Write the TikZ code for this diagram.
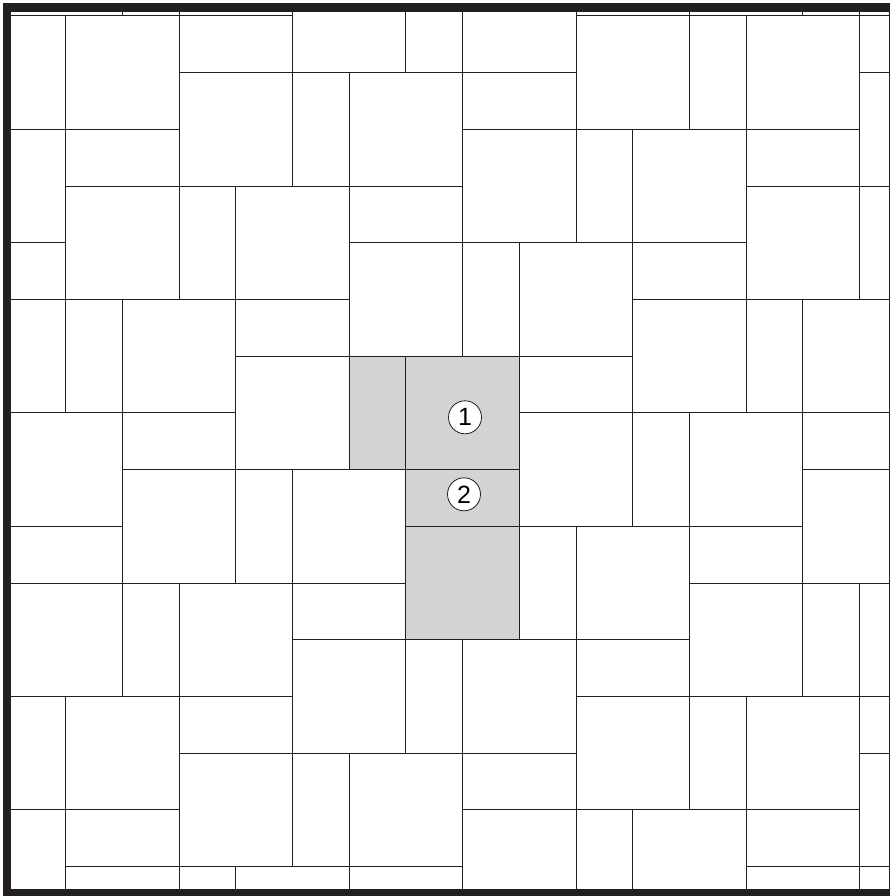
\documentclass[tikz,border=0pt]{standalone}
\usepackage{fontspec}
\setsansfont{Liberation Sans}
\definecolor{tilegray}{RGB}{209,211,212}
\definecolor{ink}{RGB}{35,31,32}
\begin{document}
\begin{tikzpicture}[x=1pt,y=-1pt,
  tileline/.style={draw=ink,line width=1pt},
  framebar/.style={fill=ink},
  numcircle/.style={circle,draw=ink,fill=white,line width=0.8pt,minimum size=33pt,inner sep=0pt,
    font=\sffamily\fontsize{25}{25}\selectfont}]
\useasboundingbox (0,0) rectangle (890,896);
% grey tiles (one pattern unit)
\fill[tilegray] (349.2,356.2) rectangle (519.3,469.6);
\fill[tilegray] (405.9,469.6) rectangle (519.3,639.7);
% tiling
\begin{scope}
\clip (9,11.5) rectangle (889,889);
\foreach \m in {-6,...,6} {
  \foreach \n in {-2,...,6} {
    \pgfmathsetmacro\px{9+(1+2*\m+3*\n)*56.7}
    \pgfmathsetmacro\py{16+(-2*\m+3*\n)*56.7}
    \draw[tileline] ({\px-56.7},{\py}) rectangle ({\px},{\py+113.4});
    \draw[tileline] ({\px},{\py}) rectangle ({\px+113.4},{\py+113.4});
    \draw[tileline] ({\px},{\py+113.4}) rectangle ({\px+113.4},{\py+170.1});
    \draw[tileline] ({\px},{\py+170.1}) rectangle ({\px+113.4},{\py+283.5});
  }
}
\end{scope}
\draw[tileline] (9,11.5) rectangle (889,889);
% frame
\fill[framebar] (3.3,3.3) rectangle (890,11);
\fill[framebar] (3.3,3.3) rectangle (11,896);
\fill[framebar] (3.3,889.3) rectangle (890,896);
% labels
\node[numcircle] (c1) at (465,417.3) {1};
\node[numcircle] (c2) at (464,494.3) {2};
\end{tikzpicture}
\end{document}
